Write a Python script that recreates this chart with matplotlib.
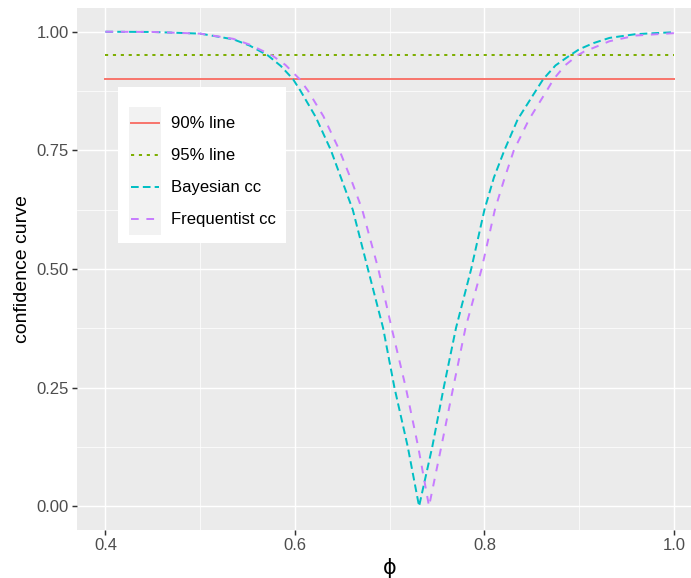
import numpy as np
import matplotlib
matplotlib.use("Agg")
import matplotlib.pyplot as plt
from matplotlib.legend_handler import HandlerLine2D
from matplotlib.lines import Line2D
from matplotlib.patches import Rectangle
from matplotlib.ticker import FixedLocator

# values
phi_bayes = [0.40, 0.45, 0.50, 0.535, 0.552, 0.5715, 0.585, 0.598, 0.606, 0.622,
             0.638, 0.649, 0.661, 0.677, 0.693, 0.705, 0.719, 0.731, 0.745,
             0.757, 0.770, 0.786, 0.800, 0.810, 0.821, 0.835, 0.854, 0.862,
             0.875, 0.890, 0.900, 0.915, 0.932, 0.960, 1.00]
cc_bayes = [1.000, 0.9995, 0.996, 0.984, 0.971, 0.950, 0.928, 0.900, 0.875, 0.820,
            0.750, 0.690, 0.625, 0.500, 0.376, 0.250, 0.126, 0.000, 0.126,
            0.250, 0.376, 0.500, 0.625, 0.693, 0.750, 0.815, 0.875, 0.900,
            0.929, 0.950, 0.963, 0.976, 0.987, 0.995, 0.999]

phi_freq = [0.40, 0.45, 0.50, 0.535, 0.552, 0.576, 0.590, 0.605, 0.614, 0.630,
            0.647, 0.659, 0.671, 0.688, 0.702, 0.717, 0.730, 0.7415, 0.7545,
            0.767, 0.780, 0.797, 0.811, 0.821, 0.831, 0.847, 0.8655, 0.873,
            0.885, 0.898, 0.905, 0.915, 0.932, 0.960, 1.00]
cc_freq = [1.000, 0.9995, 0.996, 0.985, 0.973, 0.950, 0.930, 0.900, 0.875, 0.822,
           0.750, 0.690, 0.625, 0.500, 0.376, 0.250, 0.126, 0.000, 0.126,
           0.250, 0.376, 0.500, 0.625, 0.690, 0.750, 0.815, 0.875, 0.900,
           0.929, 0.950, 0.958, 0.966, 0.980, 0.992, 0.997]

phi_range = [0.4, 1.0]
level_90 = 0.90
level_95 = 0.95

labels = ["90% line", "95% line", "Bayesian cc", "Frequentist cc"]
colors = ["#F8766D", "#7CAE00", "#00BFC4", "#C77CFF"]

W, H = 691, 578
fig = plt.figure(figsize=(W / 100, H / 100), dpi=100)
plt.rcParams['font.family'] = ['Liberation Sans', 'DejaVu Sans']


def fx(px):
    return px / W


def fy(py):
    return 1 - py / H


ax = fig.add_axes([fx(77), fy(530), fx(702.4) - fx(77), fy(8) - fy(530)])
ax.set_facecolor("#EBEBEB")
for s in ax.spines.values():
    s.set_visible(False)

lw = 1.42
ax.plot(phi_range, [level_90, level_90], color=colors[0], lw=lw, label=labels[0])
ax.plot(phi_range, [level_95, level_95], color=colors[1], lw=lw, dashes=(1.6, 2.4),
        label=labels[1])
ax.plot(phi_bayes, cc_bayes, color=colors[2], lw=lw, dashes=(3.9, 2.1), label=labels[2])
ax.plot(phi_freq, cc_freq, color=colors[3], lw=lw, dashes=(3.9, 3.9), label=labels[3])

ax.set_xlim(0.37, 1.03)
ax.set_ylim(-0.05, 1.05)
ax.set_xticks([0.4, 0.6, 0.8, 1.0])
ax.set_xticklabels(["0.4", "0.6", "0.8", "1.0"])
ax.set_yticks([0, 0.25, 0.5, 0.75, 1.0])
ax.set_yticklabels(["0.00", "0.25", "0.50", "0.75", "1.00"])
ax.xaxis.set_minor_locator(FixedLocator([0.5, 0.7, 0.9]))
ax.yaxis.set_minor_locator(FixedLocator([0.125, 0.375, 0.625, 0.875]))
ax.set_axisbelow(True)
ax.grid(which="major", color="white", lw=1.07)
ax.grid(which="minor", color="white", lw=0.53)
ax.tick_params(which="major", length=3.6, width=1.07, color="#333333",
               labelcolor="#4D4D4D", labelsize=12, pad=2.5)
ax.tick_params(which="minor", length=0)

ax.set_xlabel("ϕ", fontsize=15, family=["DejaVu Sans"], labelpad=3)
ax.set_ylabel("confidence curve", fontsize=14, labelpad=4)


class KeyHandler(HandlerLine2D):
    # grey key background like ggplot, line centred in it
    def create_artists(self, legend, orig_handle, xdescent, ydescent,
                       width, height, fontsize, trans):
        bg = Rectangle((-xdescent, -ydescent), width, height,
                       facecolor="#F2F2F2", edgecolor="none", transform=trans)
        arts = super().create_artists(legend, orig_handle, xdescent, ydescent,
                                      width, height, fontsize, trans)
        pad = 1.5
        for a in arts:
            if isinstance(a, Line2D):
                a.set_xdata([-xdescent + pad, width - xdescent - pad])
                a.set_ydata([height / 2 - ydescent] * 2)
        return [bg] + list(arts)


# white legend box, drawn inside the axes under the legend
ax.add_patch(Rectangle((fx(118), fy(243)), fx(286) - fx(118), fy(87) - fy(243),
                       transform=fig.transFigure, facecolor="white",
                       edgecolor="none", zorder=4, clip_on=False))
leg = ax.legend(loc="upper left", bbox_to_anchor=(fx(129), fy(106.7)),
                bbox_transform=fig.transFigure, frameon=False, fontsize=12,
                borderpad=0, borderaxespad=0, labelspacing=0,
                handlelength=1.92, handleheight=2.58, handletextpad=0.58,
                handler_map={Line2D: KeyHandler()})
leg.set_zorder(5)

fig.savefig("out.png", dpi=100)
